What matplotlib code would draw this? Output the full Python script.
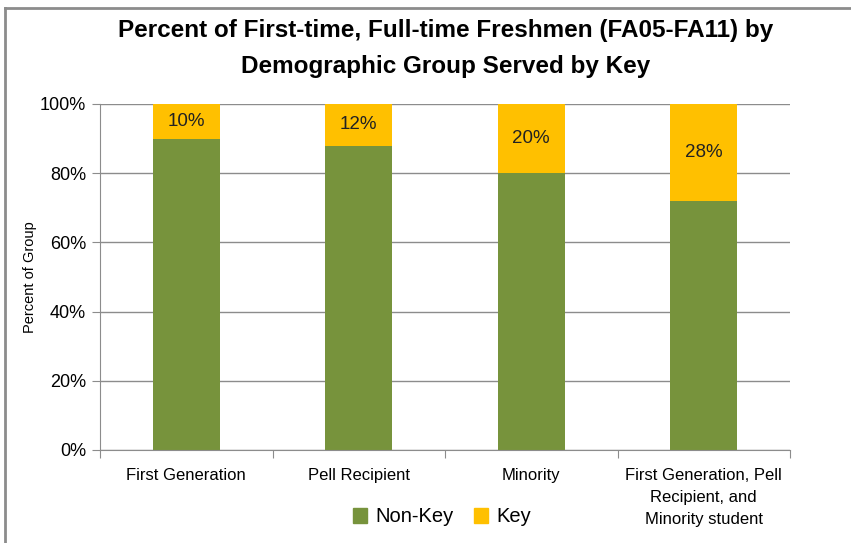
import numpy as np
import matplotlib.pyplot as plt
from matplotlib.patches import Patch
from matplotlib.lines import Line2D

plt.rcParams['font.family'] = ['Liberation Sans', 'DejaVu Sans']

#### data ######################################################################

groups = ['First Generation', 'Pell Recipient', 'Minority',
          'First Generation, Pell\nRecipient, and\nMinority student']
nonKey = [90, 88, 80, 72]
key = [10, 12, 20, 28]
keyLabels = ['10%', '12%', '20%', '28%']

green = '#77933C'
gold = '#FFC000'

#### plot ######################################################################

W, H = 851, 543
fig = plt.figure(figsize=(W/100, H/100), dpi=100)
ax = fig.add_axes([100/W, 1-450/H, 690/W, 346/H])

x = np.arange(len(groups))
ax.bar(x, nonKey, width=0.39, color=green, zorder=2)
ax.bar(x, key, width=0.39, bottom=nonKey, color=gold, zorder=2)
for i in range(len(groups)):
    ax.text(x[i], nonKey[i]+key[i]/2, keyLabels[i], ha='center', va='center',
            fontsize=13.5, color='#222222', zorder=3)

ax.set_xlim(-0.5, len(groups)-0.5)
ax.set_ylim(0, 100)
ax.set_yticks(range(0, 101, 20))
ax.set_yticklabels(['%d%%' % v for v in range(0, 101, 20)], fontsize=13)
ax.yaxis.grid(True, color='#8c8c8c', lw=1, zorder=0)
ax.set_axisbelow(True)
ax.set_xticks(np.arange(-0.5, len(groups), 1))
ax.set_xticklabels([])
ax.set_xticks(x, minor=True)
ax.set_xticklabels(groups, minor=True, fontsize=12, va='top', linespacing=1.6)
ax.tick_params(axis='x', which='minor', length=0, pad=13)
ax.tick_params(axis='x', which='major', length=6, color='#8c8c8c')
ax.tick_params(axis='y', length=6, color='#8c8c8c', pad=4)
for s in ['top', 'right']:
    ax.spines[s].set_visible(False)
ax.spines['left'].set_color('#8c8c8c')
ax.spines['bottom'].set_color('#8c8c8c')
ax.set_ylabel('Percent of Group', fontsize=10.5, labelpad=2)

fig.text(446/W, 1-31/H, 'Percent of First-time, Full-time Freshmen (FA05-FA11) by',
         ha='center', va='center', fontsize=17.5, fontweight='bold')
fig.text(446/W, 1-67/H, 'Demographic Group Served by Key',
         ha='center', va='center', fontsize=17.5, fontweight='bold')

handles = [Patch(color=green, label='Non-Key'), Patch(color=gold, label='Key')]
fig.legend(handles=handles, loc='center', bbox_to_anchor=(442/W, 1-517/H), ncol=2,
           frameon=False, fontsize=14.5, handlelength=0.7, handleheight=0.7,
           handletextpad=0.4, columnspacing=1.0)

# chart border
fig.add_artist(Line2D([5/W, 5/W], [0, 1-8/H], color='#8c8c8c', lw=2))
fig.add_artist(Line2D([5/W, 1], [1-8/H, 1-8/H], color='#8c8c8c', lw=2))

plt.savefig('out.png', dpi=100)
plt.close()
